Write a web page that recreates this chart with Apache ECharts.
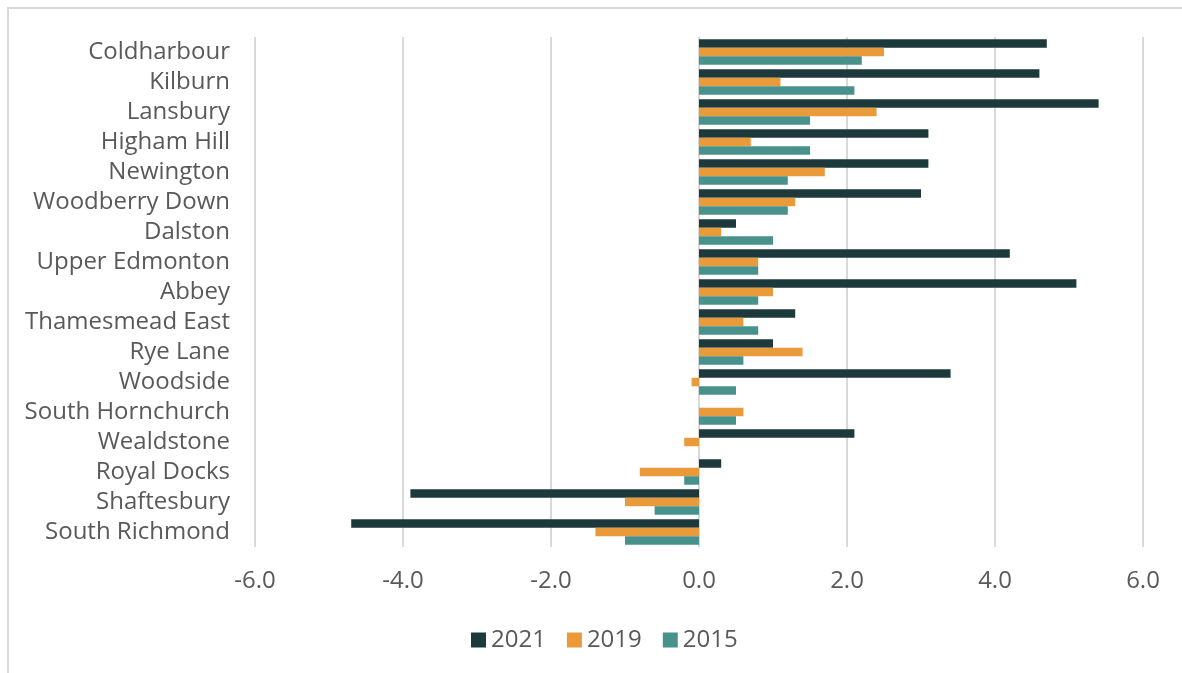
<!DOCTYPE html>
<html>
<head>
<meta charset="utf-8">
<title>Ward change</title>
<script src="https://cdn.jsdelivr.net/npm/echarts@6/dist/echarts.min.js"></script>
<style>
html, body { margin: 0; padding: 0; background: #fff; }
#chartDiv { width: 1182px; height: 673px; }
</style>
</head>
<body>
<div id="chartDiv"></div>
<script>
// categories, top to bottom
var wards = ['Coldharbour', 'Kilburn', 'Lansbury', 'Higham Hill', 'Newington', 'Woodberry Down',
	'Dalston', 'Upper Edmonton', 'Abbey', 'Thamesmead East', 'Rye Lane', 'Woodside',
	'South Hornchurch', 'Wealdstone', 'Royal Docks', 'Shaftesbury', 'South Richmond'];
var years = ['2021', '2019', '2015'];
var val2021 = [4.7, 4.6, 5.4, 3.1, 3.1, 3.0, 0.5, 4.2, 5.1, 1.3, 1.0, 3.4, 0, 2.1, 0.3, -3.9, -4.7];
var val2019 = [2.5, 1.1, 2.4, 0.7, 1.7, 1.3, 0.3, 0.8, 1.0, 0.6, 1.4, -0.1, 0.6, -0.2, -0.8, -1.0, -1.4];
var val2015 = [2.2, 2.1, 1.5, 1.5, 1.2, 1.2, 1.0, 0.8, 0.8, 0.8, 0.6, 0.5, 0.5, 0, -0.2, -0.6, -1.0];
var colors = ['#1d393b', '#e99a3a', '#48928b'];

var txtColor = '#595959';
var fontName = '"Open Sans", sans-serif';

function barSeries(name, data, col) {
	return {
		name: name,
		type: 'bar',
		data: data,
		barGap: '0%',
		barCategoryGap: '15%',
		itemStyle: { color: col },
		animation: false
	};
}

var chart = echarts.init(document.getElementById('chartDiv'));
chart.setOption({
	animation: false,
	color: colors,
	textStyle: { fontFamily: fontName },
	graphic: [{
		type: 'rect',
		shape: { x: 8, y: 8, width: 1300, height: 800 },
		style: { fill: 'none', stroke: '#d9d9d9', lineWidth: 2 },
		silent: true
	}],
	grid: { left: 255, right: 39, top: 37, bottom: 126, containLabel: false },
	legend: {
		data: years,
		left: 466,
		top: 623,
		itemWidth: 15,
		itemHeight: 15,
		itemGap: 21,
		icon: 'rect',
		textStyle: { color: txtColor, fontSize: 24, fontFamily: fontName }
	},
	xAxis: {
		type: 'value',
		min: -6,
		max: 6,
		interval: 2,
		axisLine: { show: false },
		axisTick: { show: false },
		splitLine: { lineStyle: { color: '#d9d9d9', width: 2 } },
		axisLabel: {
			color: txtColor,
			fontSize: 24,
			margin: 22,
			formatter: function (v) { return v.toFixed(1); }
		}
	},
	yAxis: {
		type: 'category',
		data: wards,
		inverse: true,
		axisLine: { show: false },
		axisTick: { show: false },
		axisLabel: { color: txtColor, fontSize: 24, margin: 25, interval: 0 }
	},
	series: [
		barSeries(years[0], val2021, colors[0]),
		barSeries(years[1], val2019, colors[1]),
		barSeries(years[2], val2015, colors[2])
	]
});
</script>
</body>
</html>
